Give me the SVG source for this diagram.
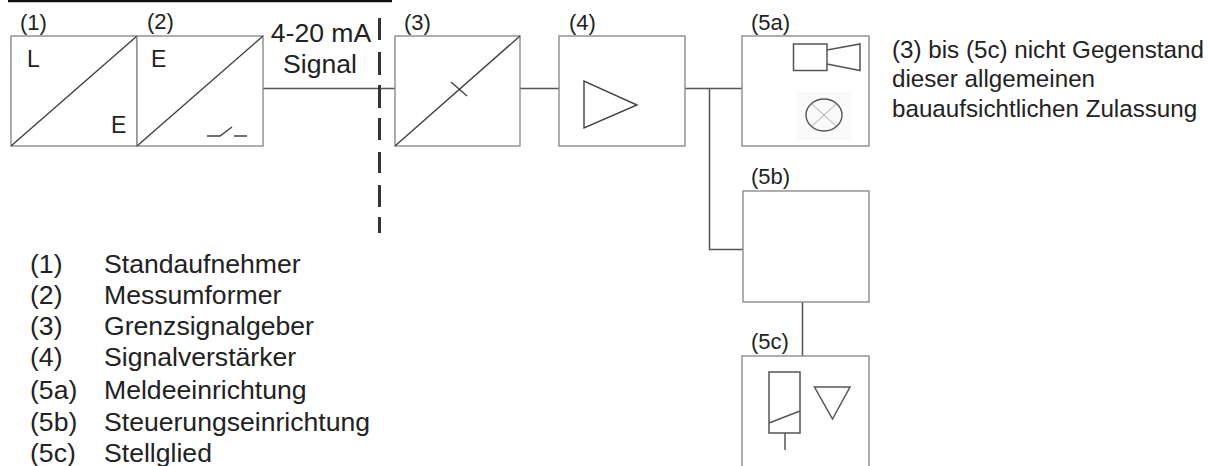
<svg xmlns="http://www.w3.org/2000/svg" width="1209" height="466" viewBox="0 0 1209 466">
<style>
text{font-family:"Liberation Sans",Arial,sans-serif;fill:#222}
.l{font-size:26.6px}
.n{font-size:22px}
.t{font-size:24.2px}
.s{font-size:26.6px}
.e{font-size:23px}
.b{fill:#fff;stroke:#8c8c8c;stroke-width:1.4}
.d{fill:none;stroke:#404040;stroke-width:1.4}
.c{fill:none;stroke:#555;stroke-width:1.5}
.y{fill:none;stroke:#555;stroke-width:1.5}
</style>
<rect width="1209" height="466" fill="#fff"/>
<path d="M8 1H392" stroke="#111" stroke-width="2.5"/>
<g id="connectors">
<path class="c" d="M263 88.500H395M520 88.500H559M685 88.500H742M709.500 88.500V249.500H743M802.500 302V356"/>
<path d="M379.500 18V40M379.500 52V75M379.500 85V108M379.500 118V140M379.500 152V173M379.500 185V207M379.500 217V233" fill="none" stroke="#333" stroke-width="3"/>
</g>
<g id="node-1">
<rect class="b" x="11" y="36" width="126" height="110"/>
<path class="d" d="M11 146L137 36"/>
<text class="n" x="20" y="30">(1)</text>
<text class="e" x="27" y="67">L</text>
<text class="e" x="111" y="133">E</text>
</g>
<g id="node-2">
<rect class="b" x="137" y="36" width="126" height="110"/>
<path class="d" d="M137 146L263 36"/>
<text class="n" x="147" y="29">(2)</text>
<text class="e" x="151" y="67">E</text>
<path class="d" d="M207 136H220L232 127M234 136H247" stroke-width="1"/>
</g>
<g id="signal-label">
<text class="s" x="321" y="42" text-anchor="middle">4-20 mA</text>
<text class="s" x="320" y="73" text-anchor="middle">Signal</text>
</g>
<g id="node-3">
<rect class="b" x="395" y="36" width="125" height="110"/>
<path class="d" d="M395 146L520 36M451 82L467 96"/>
<text class="n" x="404" y="30">(3)</text>
</g>
<g id="node-4">
<rect class="b" x="559" y="36" width="126" height="110"/>
<path class="d" d="M584 81V128L637 105Z"/>
<text class="n" x="569" y="30">(4)</text>
</g>
<g id="node-5a">
<rect class="b" x="742" y="36" width="127" height="110"/>
<path class="y" d="M793.500 44H827V70.500H793.500ZM827 50L860 44V70.500L827 64"/>
<rect x="796" y="92" width="56" height="48" fill="#fafafa"/>
<ellipse cx="824" cy="115" rx="18" ry="16" fill="none" stroke="#555" stroke-width="1.4"/>
<path d="M812 104L836 126M836 104L812 126" stroke="#aaa" stroke-width="1"/>
<text class="n" x="751" y="30">(5a)</text>
</g>
<g id="node-5b">
<rect class="b" x="743" y="191" width="126" height="111"/>
<text class="n" x="751" y="184">(5b)</text>
</g>
<g id="node-5c">
<rect class="b" x="742" y="356" width="127" height="112"/>
<path class="y" d="M769 372H800V433H769ZM769 423L800 411M785 433V450"/>
<path class="y" d="M814.500 387H850L832.500 419Z"/>
<text class="n" x="751" y="349">(5c)</text>
</g>
<g id="note">
<text class="t" x="892" y="58">(3) bis (5c) nicht Gegenstand</text>
<text class="t" x="892" y="87">dieser allgemeinen</text>
<text class="t" x="892" y="117">bauaufsichtlichen Zulassung</text>
</g>
<g id="legend">
<text class="l" x="30" y="273">(1)</text><text class="l" x="104" y="273">Standaufnehmer</text>
<text class="l" x="30" y="304">(2)</text><text class="l" x="104" y="304">Messumformer</text>
<text class="l" x="30" y="335">(3)</text><text class="l" x="104" y="335">Grenzsignalgeber</text>
<text class="l" x="30" y="366">(4)</text><text class="l" x="104" y="366">Signalverstärker</text>
<text class="l" x="30" y="399">(5a)</text><text class="l" x="104" y="399">Meldeeinrichtung</text>
<text class="l" x="30" y="431">(5b)</text><text class="l" x="104" y="431">Steuerungseinrichtung</text>
<text class="l" x="30" y="462">(5c)</text><text class="l" x="104" y="462">Stellglied</text>
</g>
</svg>
